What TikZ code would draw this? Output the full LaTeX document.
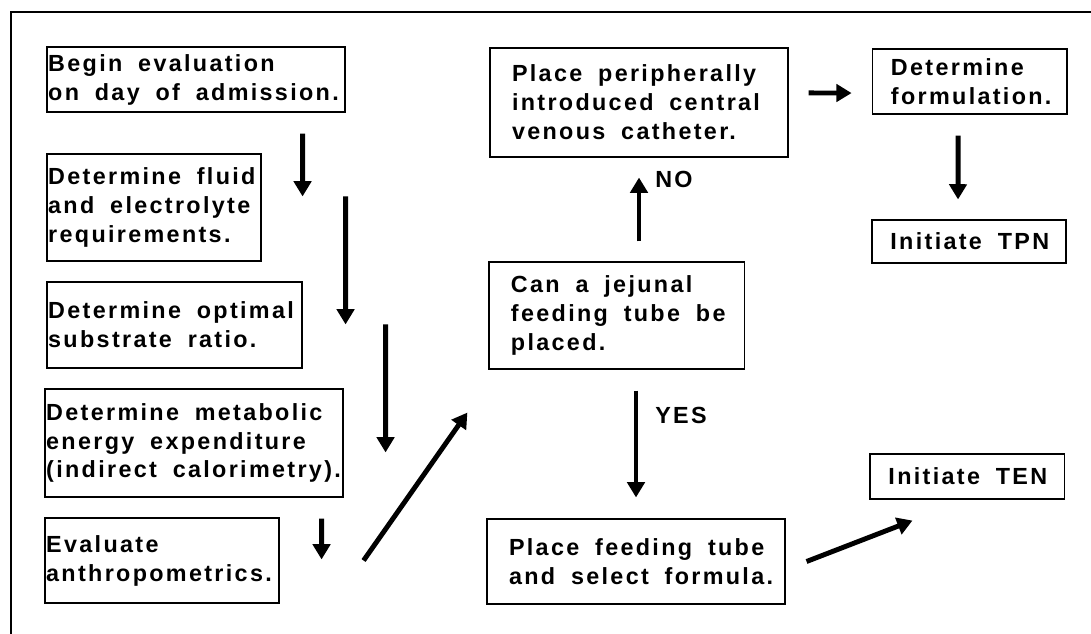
\documentclass[tikz,border=0pt]{standalone}
\usepackage{fontspec}
\newfontfamily\chartfont{Liberation Sans}[LetterSpace=10]
\newcommand\chartstyle{\chartfont\bfseries\fontsize{16.6pt}{20.6pt}\selectfont\hyphenpenalty=10000\relax}
\newcommand\gap{\nobreak\hskip0.68em\relax}
\usetikzlibrary{arrows.meta}
\begin{document}
\begin{tikzpicture}[
  stepbox/.style={draw, line width=0.8pt, align=left, inner ysep=0pt, font=\chartstyle},
  leftbox/.style={stepbox, inner xsep=0.03cm},
  midbox/.style={stepbox, inner xsep=0.55cm},
  rightbox/.style={stepbox, inner xsep=0.46cm},
  arr/.style={-{Triangle[length=0.38cm,width=0.43cm]}, line width=3.5pt},
  answer/.style={anchor=west, inner sep=0pt, font=\chartstyle}]
\useasboundingbox (0,0) rectangle (27.275,-15.85);
\draw[line width=1.8pt] (0.275,-15.85) |- (27.275,-0.3);
\node[leftbox, text width=7.39cm, minimum height=1.625cm] (begin) at (4.9,-1.9875) {Begin\gap evaluation\\on\gap day\gap of\gap admission.};
\node[leftbox, text width=5.29cm, minimum height=2.675cm] (fluid) at (3.85,-5.1875) {Determine\gap fluid\\and\gap electrolyte\\requirements.};
\node[leftbox, text width=6.315cm, minimum height=2.15cm] (ratio) at (4.3625,-8.125) {Determine\gap optimal\\substrate\gap ratio.};
\node[leftbox, text width=7.39cm, minimum height=2.7cm] (energy) at (4.85,-11.075) {Determine\gap metabolic\\energy\gap expenditure\\(indirect\gap calorimetry).};
\node[leftbox, text width=5.79cm, minimum height=2.125cm] (anthro) at (4.05,-14.0125) {Evaluate\\anthropometrics.};
\node[midbox, text width=6.35cm, minimum height=2.725cm] (picc) at (15.975,-2.5625) {Place\gap peripherally\\introduced\gap central\\venous\gap catheter.};
\node[midbox, text width=5.29cm, minimum height=2.675cm] (jejunal) at (15.419,-7.8875) {Can\gap a\gap jejunal\\feeding\gap tube\gap be\\placed.};
\node[midbox, text width=6.35cm, minimum height=2.125cm] (tube) at (15.9,-14.0375) {Place\gap feeding\gap tube\\and\gap select\gap formula.};
\node[rightbox, text width=3.94cm, minimum height=1.625cm] (formul) at (24.244,-2.0375) {Determine\\formulation.};
\node[rightbox, text width=3.93cm, minimum height=1.075cm] (tpn) at (24.225,-6.0375) {Initiate\gap TPN};
\node[rightbox, text width=3.94cm, minimum height=1.125cm] (ten) at (24.181,-11.9125) {Initiate\gap TEN};
\draw [arr] ([shift={(-1.075,-0.525)}]begin.south east) -- ([shift={(1.025,-1.075)}]fluid.north east);
\draw [arr] ([shift={(2.1,-1.075)}]fluid.north east) -- ([shift={(1.075,-1.075)}]ratio.north east);
\draw [arr] ([shift={(2.075,-1.075)}]ratio.north east) -- ([shift={(1.05,-1.6)}]energy.north east);
\draw [arr] ([shift={(-0.55,-0.525)}]energy.south east) -- ([shift={(1.05,-1.05)}]anthro.north east);
\draw [arr] ([xshift=2.1cm]anthro.east) -- ([shift={(-0.525,-1.075)}]jejunal.south west);
\draw [arr, shorten <=0.5cm, shorten >=0.5cm] (jejunal.north -| picc.south) -- (picc.south);
\draw [arr, shorten <=0.525cm, shorten >=0.525cm] (jejunal.south -| tube.north) -- (tube.north);
\draw [arr, shorten <=0.5cm, shorten >=0.51cm] ([yshift=0.24cm]picc.east) -- ([yshift=-0.29cm]formul.west);
\draw [arr, shorten <=0.525cm, shorten >=0.5cm] ([xshift=-0.29cm]formul.south) -- ([xshift=-0.275cm]tpn.north);
\draw [arr] ([xshift=0.525cm]tube.east) -- ([shift={(1.075,-0.525)}]ten.south west);
\node[answer] (no) at ([shift={(0.4,-0.55)}]picc.south) {NO};
\node[answer] (yes) at ([shift={(0.475,2.575)}]tube.north) {YES};
\end{tikzpicture}
\end{document}
